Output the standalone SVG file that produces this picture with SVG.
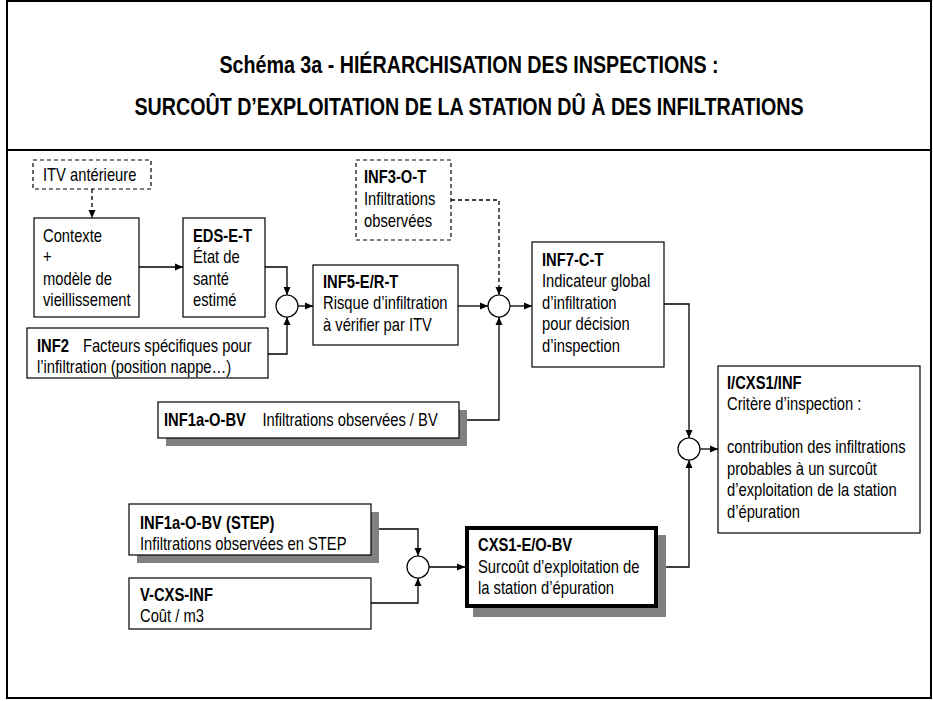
<svg xmlns="http://www.w3.org/2000/svg" width="933" height="701" viewBox="0 0 933 701">
<defs>
<style>
.t{font-family:"Liberation Sans",Arial,sans-serif;font-size:18px;fill:#000}
.b{font-weight:bold}
.ti{font-family:"Liberation Sans",Arial,sans-serif;font-size:24px;font-weight:bold;fill:#000}
.box{fill:#fff;stroke:#000;stroke-width:1.2}
.dbox{fill:#fff;stroke:#000;stroke-width:1.2;stroke-dasharray:4 3}
.thick{fill:#fff;stroke:#000;stroke-width:4}
.sh{fill:#808080}
.c{fill:none;stroke:#000;stroke-width:1.3}
.cd{fill:none;stroke:#000;stroke-width:1.3;stroke-dasharray:4 3}
.op{fill:#fff;stroke:#000;stroke-width:1.2}
</style>
<marker id="ar" markerUnits="userSpaceOnUse" markerWidth="9" markerHeight="8" refX="8" refY="4" orient="auto">
<path d="M0,0.5 L8,4 L0,7.5 z" fill="#000"/>
</marker>
</defs>
<rect x="0" y="0" width="933" height="701" fill="#fff"/>
<g id="frame">
<rect x="7" y="1" width="924" height="697" fill="none" stroke="#000" stroke-width="2"/>
<line x1="7" y1="150" x2="931" y2="150" stroke="#000" stroke-width="2"/>
</g>
<g id="title">
<g transform="translate(469 0) scale(0.82 1)"><text class="ti" x="0" y="73" text-anchor="middle">Schéma 3a - HIÉRARCHISATION DES INSPECTIONS :</text></g>
<g transform="translate(469 0) scale(0.82 1)"><text class="ti" x="0" y="115" text-anchor="middle">SURCOÛT D’EXPLOITATION DE LA STATION DÛ À DES INFILTRATIONS</text></g>
</g>
<g id="connectors">
<path class="cd" d="M92,189 V218" marker-end="url(#ar)"/>
<path class="c" d="M139,267 H183" marker-end="url(#ar)"/>
<path class="c" d="M265,267 H287 V295" marker-end="url(#ar)"/>
<path class="c" d="M268,354 H287 V317" marker-end="url(#ar)"/>
<path class="c" d="M298,306 H313" marker-end="url(#ar)"/>
<path class="c" d="M458,306 H488" marker-end="url(#ar)"/>
<path class="cd" d="M451,200 H499 V295" marker-end="url(#ar)"/>
<path class="c" d="M459,420 H499 V317" marker-end="url(#ar)"/>
<path class="c" d="M510,306 H532" marker-end="url(#ar)"/>
<path class="c" d="M664,304 H689 V438" marker-end="url(#ar)"/>
<path class="c" d="M658,567 H689 V460" marker-end="url(#ar)"/>
<path class="c" d="M700,449 H718" marker-end="url(#ar)"/>
<path class="c" d="M371,529 H418 V556" marker-end="url(#ar)"/>
<path class="c" d="M371,603 H418 V578" marker-end="url(#ar)"/>
<path class="c" d="M429,567 H465" marker-end="url(#ar)"/>
</g>
<g id="op1"><circle class="op" cx="287" cy="306" r="11"/></g>
<g id="op2"><circle class="op" cx="499" cy="306" r="11"/></g>
<g id="op3"><circle class="op" cx="689" cy="449" r="11"/></g>
<g id="op4"><circle class="op" cx="418" cy="567" r="11"/></g>
<g id="itv">
<rect class="dbox" x="33" y="160" width="118" height="29"/>
<g transform="translate(43 0) scale(0.82 1)"><text class="t" x="0" y="181">ITV antérieure</text></g>
</g>
<g id="contexte">
<rect class="box" x="34" y="218" width="105" height="99"/>
<g transform="translate(43 0) scale(0.82 1)"><text class="t"><tspan x="0" y="242">Contexte</tspan><tspan x="0" y="263">+</tspan><tspan x="0" y="285">modèle de</tspan><tspan x="0" y="306">vieillissement</tspan></text></g>
</g>
<g id="eds">
<rect class="box" x="183" y="218" width="82" height="99"/>
<g transform="translate(193 0) scale(0.82 1)"><text class="t"><tspan x="0" y="242" class="b">EDS-E-T</tspan><tspan x="0" y="263">État de</tspan><tspan x="0" y="285">santé</tspan><tspan x="0" y="306">estimé</tspan></text></g>
</g>
<g id="inf2">
<rect class="box" x="27" y="328" width="241" height="50"/>
<g transform="translate(37 0) scale(0.82 1)"><text class="t"><tspan x="0" y="352" class="b">INF2</tspan><tspan x="56" y="352">Facteurs spécifiques pour</tspan><tspan x="0" y="373">l’infiltration (position nappe…)</tspan></text></g>
</g>
<g id="inf1a">
<rect class="sh" x="166" y="410" width="301" height="36"/>
<rect class="box" x="158" y="402" width="301" height="36"/>
<g transform="translate(164 0) scale(0.82 1)"><text class="t"><tspan x="0" y="426" class="b">INF1a-O-BV</tspan><tspan x="120" y="426">Infiltrations observées / BV</tspan></text></g>
</g>
<g id="inf5">
<rect class="box" x="313" y="265" width="145" height="80"/>
<g transform="translate(323 0) scale(0.82 1)"><text class="t"><tspan x="0" y="288" class="b">INF5-E/R-T</tspan><tspan x="0" y="309.5">Risque d’infiltration</tspan><tspan x="0" y="331">à vérifier par ITV</tspan></text></g>
</g>
<g id="inf3">
<rect class="dbox" x="356" y="160" width="95" height="80"/>
<g transform="translate(364 0) scale(0.82 1)"><text class="t"><tspan x="0" y="183" class="b">INF3-O-T</tspan><tspan x="0" y="205">Infiltrations</tspan><tspan x="0" y="227">observées</tspan></text></g>
</g>
<g id="inf7">
<rect class="box" x="532" y="242" width="132" height="125"/>
<g transform="translate(542 0) scale(0.82 1)"><text class="t"><tspan x="0" y="266" class="b">INF7-C-T</tspan><tspan x="0" y="287.5">Indicateur global</tspan><tspan x="0" y="309">d’infiltration</tspan><tspan x="0" y="330.5">pour décision</tspan><tspan x="0" y="352">d’inspection</tspan></text></g>
</g>
<g id="icxs1">
<rect class="box" x="718" y="366" width="202" height="167"/>
<g transform="translate(727 0) scale(0.82 1)"><text class="t"><tspan x="0" y="389" class="b">I/CXS1/INF</tspan><tspan x="0" y="410.5">Critère d’inspection :</tspan><tspan x="0" y="453">contribution des infiltrations</tspan><tspan x="0" y="475">probables à un surcoût</tspan><tspan x="0" y="496.5">d’exploitation de la station</tspan><tspan x="0" y="518">d’épuration</tspan></text></g>
</g>
<g id="cxs1">
<rect class="sh" x="473" y="535" width="193" height="82"/>
<rect class="thick" x="467" y="528" width="189" height="78"/>
<g transform="translate(478 0) scale(0.82 1)"><text class="t"><tspan x="0" y="551" class="b">CXS1-E/O-BV</tspan><tspan x="0" y="573">Surcoût d’exploitation de</tspan><tspan x="0" y="594">la station d’épuration</tspan></text></g>
</g>
<g id="step">
<rect class="sh" x="137" y="512" width="242" height="51"/>
<rect class="box" x="129" y="504" width="242" height="51"/>
<g transform="translate(140 0) scale(0.82 1)"><text class="t"><tspan x="0" y="529" class="b">INF1a-O-BV (STEP)</tspan><tspan x="0" y="550">Infiltrations observées en STEP</tspan></text></g>
</g>
<g id="vcxs">
<rect class="box" x="129" y="578" width="242" height="51"/>
<g transform="translate(140 0) scale(0.82 1)"><text class="t"><tspan x="0" y="601" class="b">V-CXS-INF</tspan><tspan x="0" y="622">Coût / m3</tspan></text></g>
</g>
</svg>
